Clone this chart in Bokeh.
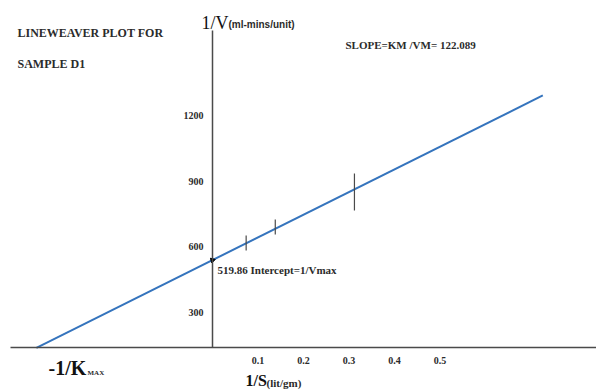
from bokeh.plotting import figure
from bokeh.models import LinearAxis, FixedTicker, Label, Range1d
from bokeh.embed import file_html
from bokeh.resources import INLINE

# ---- data ----
line_x = [-0.387, 0.726]          # 1/S
line_y = [136, 1294]              # 1/V
err_x = [0.074, 0.138, 0.312]
err_lo = [583, 656, 766]
err_hi = [651, 725, 936]
intercept_x = [0.0]
intercept_y = [538]
x_ticks = [0.1, 0.2, 0.3, 0.4, 0.5]
y_ticks = [300, 600, 900, 1200]
x_axis_level = 136

SERIF = "Liberation Serif"
SANS = "Liberation Sans"
INK = "#2b2b2b"

p = figure(width=596, height=390, output_backend="svg", toolbar_location=None,
           x_range=Range1d(-0.4659, 0.8440), y_range=Range1d(-59.6, 1729.4),
           x_axis_type=None, y_axis_type=None, min_border=0)
p.outline_line_color = None
p.grid.visible = False

# axes
xa = LinearAxis(fixed_location=x_axis_level, ticker=FixedTicker(ticks=x_ticks),
                bounds=(-0.444, 0.844))
ya = LinearAxis(fixed_location=0, ticker=FixedTicker(ticks=y_ticks),
                bounds=(x_axis_level, 1592))
for ax in (xa, ya):
    ax.axis_line_color = "#4a4a4a"
    ax.axis_line_width = 1.5
    ax.major_tick_line_color = None
    ax.minor_tick_line_color = None
    ax.major_label_standoff = 3
    ax.major_label_text_font = SERIF
    ax.major_label_text_font_style = "bold"
    ax.major_label_text_font_size = "10px"
    ax.major_label_text_color = INK
p.add_layout(xa, "below")
p.add_layout(ya, "left")

# regression line
p.line(line_x, line_y, line_color="#3574bd", line_width=2)
# error bars
p.segment(x0=err_x, y0=err_lo, x1=err_x, y1=err_hi, line_color="#4a4a4a", line_width=1.2)
# intercept marker
p.scatter(intercept_x, intercept_y, marker="triangle", size=5, angle=0.8,
          fill_color="black", line_color="black")

def lab(x, y, t, font=SERIF, size="10px", style="bold", baseline="middle", color=INK):
    p.add_layout(Label(x=x, y=y, text=t, text_font=font, text_font_size=size,
                       text_font_style=style, text_baseline=baseline, text_color=color))

lab(-0.4286, 1582, "LINEWEAVER PLOT FOR", size="12px")
lab(-0.4286, 1440, "SAMPLE  D1", size="12px")
lab(-0.0242, 1624, "1/V", size="18px", style="normal", baseline="alphabetic", color="#111")
lab(0.0352, 1619, "(ml-mins/unit)", font=SANS, size="10px", baseline="alphabetic")
lab(0.2923, 1523, "SLOPE=KM /VM= 122.089", size="11px")
lab(0.011, 491, "519.86 Intercept=1/Vmax", size="11px")
lab(-0.3604, -9, "-1/K", size="20px", baseline="bottom", color="#111")
lab(-0.2747, 2, "MAX", size="7px", baseline="bottom")
lab(0.0725, -55, "1/S", size="16px", baseline="bottom", color="#111")
lab(0.1187, -55, "(lit/gm)", size="11px", baseline="bottom")

open("out.html", "w").write(file_html(p, INLINE))
